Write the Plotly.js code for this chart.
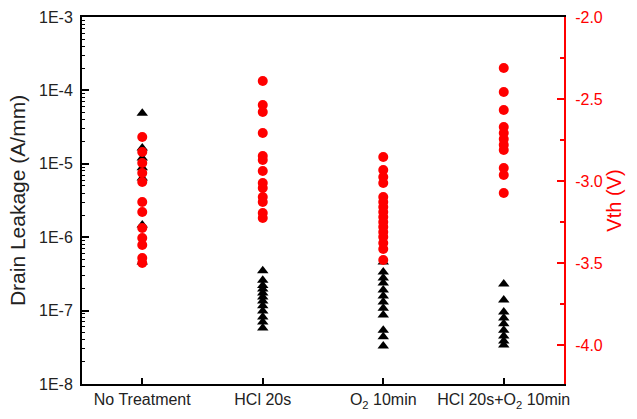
<!DOCTYPE html>
<html>
<head>
<meta charset="utf-8">
<script src="https://cdn.plot.ly/plotly-3.0.1.min.js"></script>
<style>html,body{margin:0;padding:0;background:#fff;}#chart{width:637px;height:419px;}</style>
</head>
<body>
<div id="chart"></div>
<script>
// Categories (x axis)
const categories = ['No Treatment', 'HCl 20s', 'O<sub>2</sub> 10min', 'HCl 20s+O<sub>2</sub> 10min'];

// Drain leakage (A/mm), left log axis – black triangles
const leakNoTreatment = [4.9e-5, 1.64e-5, 1.2e-5, 8.8e-6, 6.4e-6, 1.47e-6, 4.6e-7];
const leakHCl = [3.5e-7, 2.6e-7, 2.2e-7, 1.97e-7, 1.74e-7, 1.53e-7, 1.35e-7, 1.16e-7, 9.9e-8, 8.2e-8, 7.0e-8, 5.8e-8];
const leakO2 = [4.6e-7, 3.36e-7, 2.78e-7, 2.38e-7, 1.91e-7, 1.58e-7, 1.31e-7, 1.08e-7, 8.7e-8, 5.4e-8, 4.4e-8, 3.3e-8];
const leakHClO2 = [2.3e-7, 1.39e-7, 9.6e-8, 7.9e-8, 6.6e-8, 5.4e-8, 4.5e-8, 3.85e-8, 3.4e-8];

// Vth (V), right axis – red circles
const vthNoTreatment = [-2.732, -2.823, -2.89, -2.951, -3.006, -3.128, -3.189, -3.287, -3.348, -3.39, -3.47, -3.5];
const vthHCl = [-2.39, -2.537, -2.579, -2.707, -2.848, -2.872, -2.939, -3.012, -3.043, -3.098, -3.128, -3.195, -3.226];
const vthO2 = [-2.854, -2.933, -2.976, -3.012, -3.098, -3.128, -3.159, -3.189, -3.22, -3.25, -3.28, -3.311, -3.341, -3.378, -3.415, -3.482];
const vthHClO2 = [-2.311, -2.457, -2.567, -2.671, -2.707, -2.744, -2.78, -2.811, -2.921, -2.963, -3.073];

// Tick labels
const leakTickVals = [1e-8, 1e-7, 1e-6, 1e-5, 1e-4, 1e-3];
const leakTickText = ['1E-8', '1E-7', '1E-6', '1E-5', '1E-4', '1E-3'];
const vthTickVals = [-4.0, -3.5, -3.0, -2.5, -2.0];
const vthTickText = ['-4.0', '-3.5', '-3.0', '-2.5', '-2.0'];

const leakSeries = [leakNoTreatment, leakHCl, leakO2, leakHClO2];
const vthSeries = [vthNoTreatment, vthHCl, vthO2, vthHClO2];

function repeatCat(cat, arr) { return arr.map(() => cat); }

const leakX = [], leakY = [], vthX = [], vthY = [];
categories.forEach((c, i) => {
  leakX.push(...repeatCat(c, leakSeries[i])); leakY.push(...leakSeries[i]);
  vthX.push(...repeatCat(c, vthSeries[i])); vthY.push(...vthSeries[i]);
});

const minorVals = [];
for (let e = -8; e < -3; e++) {
  for (let m = 2; m <= 9; m++) minorVals.push(m * Math.pow(10, e));
}

const FONT = 'Liberation Sans, Arial, sans-serif';

const traces = [
  {
    x: leakX, y: leakY, type: 'scatter', mode: 'markers', yaxis: 'y',
    marker: {symbol: 'triangle-up', size: 10, color: '#000000'},
    name: 'Drain Leakage', cliponaxis: false
  },
  {
    x: vthX, y: vthY, type: 'scatter', mode: 'markers', yaxis: 'y2',
    marker: {symbol: 'circle', size: 10, color: '#ff0000'},
    name: 'Vth', cliponaxis: false
  }
];

const layout = {
  width: 637, height: 419,
  margin: {l: 82, r: 73, t: 17, b: 35},
  paper_bgcolor: '#ffffff', plot_bgcolor: '#ffffff',
  showlegend: false,
  font: {family: FONT, color: '#222222'},
  xaxis: {
    type: 'category', categoryorder: 'array', categoryarray: categories,
    range: [-0.5, 3.5],
    showline: true, linecolor: '#000000', linewidth: 2, mirror: true,
    ticks: 'inside', ticklen: 6, tickwidth: 2, tickcolor: '#000000',
    showgrid: false, zeroline: false,
    tickfont: {family: FONT, size: 16, color: '#222222'}
  },
  yaxis: {
    type: 'log', range: [-8, -3],
    tickmode: 'array', tickvals: leakTickVals, ticktext: leakTickText,
    showline: true, linecolor: '#000000', linewidth: 2,
    ticks: 'inside', ticklen: 7, tickwidth: 2, tickcolor: '#000000',
    minor: {tickmode: 'array', tickvals: minorVals, ticks: 'inside', ticklen: 3, tickwidth: 1, tickcolor: '#000000', showgrid: false},
    showgrid: false, zeroline: false,
    tickfont: {family: FONT, size: 16, color: '#222222'},
    ticklabelstandoff: 4,
    title: {text: 'Drain Leakage (A/mm)', font: {family: FONT, size: 21, color: '#222222'}, standoff: 8}
  },
  yaxis2: {
    overlaying: 'y', side: 'right', anchor: 'x',
    range: [-4.238, -2.0],
    tickmode: 'array', tickvals: vthTickVals, ticktext: vthTickText,
    showline: true, linecolor: '#ff0000', linewidth: 2,
    ticks: 'inside', ticklen: 7, tickwidth: 2, tickcolor: '#ff0000',
    minor: {tickmode: 'linear', tick0: -4.0, dtick: 0.25, ticks: 'inside', ticklen: 4, tickwidth: 2, tickcolor: '#ff0000', showgrid: false},
    showgrid: false, zeroline: false,
    tickfont: {family: FONT, size: 16, color: '#ff0000'},
    ticklabelstandoff: 6,
    title: {text: 'Vth (V)', font: {family: FONT, size: 20, color: '#ff0000'}, standoff: 4}
  }
};

Plotly.newPlot('chart', traces, layout, {staticPlot: true, displayModeBar: false});
</script>
</body>
</html>
